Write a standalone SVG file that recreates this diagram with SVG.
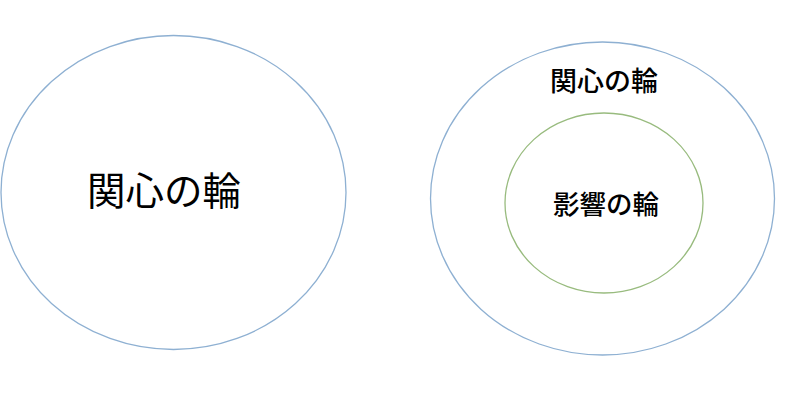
<svg xmlns="http://www.w3.org/2000/svg" width="800" height="419" viewBox="0 0 800 419">
<style>
.ring{fill:none;stroke-width:1.3}
.blue{stroke:#8eb0d2}
.green{stroke:#98bb7e}
text{font-family:"Noto Sans CJK JP","Noto Sans CJK SC",sans-serif;font-weight:500;fill:#000;text-anchor:middle}
text.big{font-weight:400}
</style>
<rect width="800" height="419" fill="#fff"/>
<g id="left-circle">
<ellipse class="ring blue" cx="173.5" cy="192.5" rx="172.5" ry="157"/>
<text class="big" x="164" y="205" font-size="38.5">関心の輪</text>
</g>
<g id="right-circle">
<ellipse class="ring blue" cx="602.5" cy="198.5" rx="172" ry="156.5"/>
<text x="604" y="91" font-size="27">関心の輪</text>
</g>
<g id="inner-circle">
<ellipse class="ring green" cx="604" cy="203" rx="99" ry="90"/>
<text x="606" y="214" font-size="26.5">影響の輪</text>
</g>
<g id="connectors"></g>
</svg>
